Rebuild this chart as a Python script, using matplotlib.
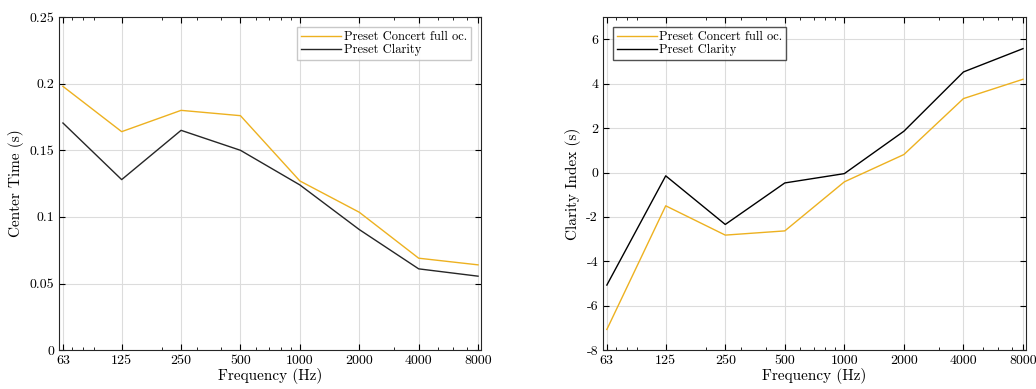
import matplotlib
matplotlib.use("Agg")
import matplotlib.pyplot as plt
from matplotlib.ticker import FixedLocator, NullFormatter, LogLocator

plt.rcParams['font.family'] = 'serif'
plt.rcParams['font.serif'] = ['cmr10', 'DejaVu Serif']
plt.rcParams['axes.unicode_minus'] = False
plt.rcParams['mathtext.fontset'] = 'cm'

freqs = [63, 125, 250, 500, 1000, 2000, 4000, 8000]
freq_labels = ['63', '125', '250', '500', '1000', '2000', '4000', '8000']

center_concert = [0.198, 0.164, 0.180, 0.176, 0.127, 0.1035, 0.069, 0.064]
center_clarity = [0.1705, 0.128, 0.165, 0.150, 0.124, 0.0905, 0.061, 0.0555]

clarity_concert = [-7.07, -1.50, -2.82, -2.63, -0.42, 0.81, 3.33, 4.20]
clarity_clarity = [-5.07, -0.15, -2.34, -0.47, -0.05, 1.86, 4.53, 5.58]

orange = '#EDB120'
dark = '#262626'

fig = plt.figure(figsize=(10.36, 3.89), dpi=100)
ax1 = fig.add_axes([0.057, 0.100, 0.407, 0.856])
ax2 = fig.add_axes([0.582, 0.100, 0.408, 0.856])


def style_axes(ax):
    ax.set_xscale('log')
    ax.set_xlim(60.2, 8250)
    ax.xaxis.set_major_locator(FixedLocator(freqs))
    ax.set_xticklabels(freq_labels)
    ax.xaxis.set_minor_locator(LogLocator(base=10, subs=range(2, 10)))
    ax.xaxis.set_minor_formatter(NullFormatter())
    ax.grid(True, which='major', color='#dcdcdc', linewidth=0.8)
    ax.set_axisbelow(True)
    ax.tick_params(which='both', direction='in', top=True, right=True, labelsize=10)
    ax.tick_params(which='major', length=4)
    ax.tick_params(which='minor', length=2)
    for s in ax.spines.values():
        s.set_color('#262626')
        s.set_linewidth(0.8)
    ax.set_xlabel('Frequency (Hz)', fontsize=11, labelpad=1)


leg_kw = dict(fontsize=9, frameon=True, fancybox=False, handlelength=3.2,
              borderpad=0.3, labelspacing=0.1, handletextpad=0.2,
              borderaxespad=0.8)

ax1.plot(freqs, center_concert, color=orange, lw=1.0, label='Preset Concert full oc.')
ax1.plot(freqs, center_clarity, color=dark, lw=1.0, label='Preset Clarity')
style_axes(ax1)
ax1.set_ylim(0, 0.25)
ax1.set_yticks([0, 0.05, 0.1, 0.15, 0.2, 0.25])
ax1.set_yticklabels(['0', '0.05', '0.1', '0.15', '0.2', '0.25'])
ax1.set_ylabel('Center Time (s)', fontsize=11)
ax1.legend(loc='upper right', edgecolor='#bbbbbb', **leg_kw)

ax2.plot(freqs, clarity_concert, color=orange, lw=1.0, label='Preset Concert full oc.')
ax2.plot(freqs, clarity_clarity, color='black', lw=1.0, label='Preset Clarity')
style_axes(ax2)
ax2.set_ylim(-8, 7)
ax2.set_yticks([-8, -6, -4, -2, 0, 2, 4, 6])
ax2.set_yticklabels(['-8', '-6', '-4', '-2', '0', '2', '4', '6'])
ax2.set_ylabel('Clarity Index (s)', fontsize=11)
ax2.legend(loc='upper left', edgecolor='#262626', **leg_kw)

fig.savefig('out.png', dpi=100)
